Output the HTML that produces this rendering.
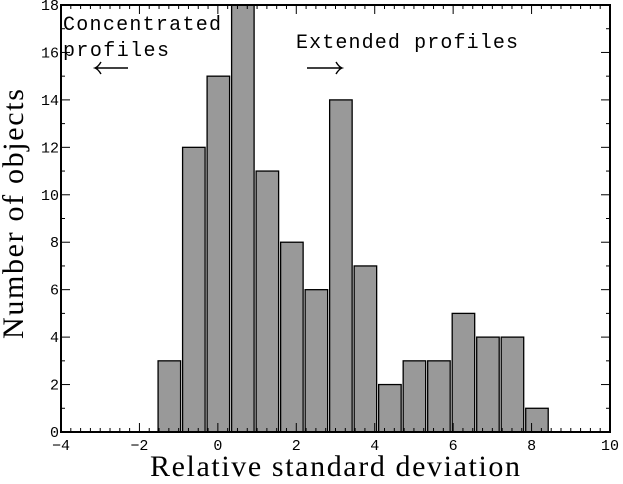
<!DOCTYPE html>
<html><head><meta charset="utf-8"><style>
body{margin:0;background:#fff}
svg text{font-family:"Liberation Mono",monospace}
</style></head><body>
<svg width="623" height="479">
<g id="g"></g>
</svg>
<script>
const binStarts=[-1.55,-0.925,-0.3,0.325,0.95,1.575,2.2,2.825,3.45,4.075,4.7,5.325,5.95,6.575,7.2,7.825];
const counts=[3,12,15,18,11,8,6,14,7,2,3,3,5,4,4,1];
const binWidth=0.625;
const xTicks=[-4,-2,0,2,4,6,8,10];
const yTicks=[0,2,4,6,8,10,12,14,16,18];
const L=61,R=610,T=5,B=432;
const X=v=>L+(v+4)/14*(R-L);
const Y=v=>B-v/18*(B-T);
const g=document.getElementById('g');
const NS='http://www.w3.org/2000/svg';
function mk(t,a,txt){const e=document.createElementNS(NS,t);for(const k in a)e.setAttribute(k,a[k]);if(txt!=null)e.textContent=txt;g.appendChild(e);return e;}
binStarts.forEach((s,i)=>{
 const x0=X(s)+1,x1=X(s+binWidth)-1;
 const r=mk('rect',{x:x0,y:Y(counts[i]),width:x1-x0,height:B-Y(counts[i]),fill:'#999',stroke:'#000','stroke-width':1.3});
 
 
});
for(let v=-4;v<=10.001;v+=0.25){const x=X(v);const big=Math.abs(v-Math.round(v/2)*2)<1e-6;const len=big?9:4;
 mk('line',{x1:x,x2:x,y1:B,y2:B-len,stroke:'#000','stroke-width':1});
 mk('line',{x1:x,x2:x,y1:T,y2:T+len,stroke:'#000','stroke-width':1});}
for(let v=0;v<=18;v+=1){const y=Y(v);const len=v%2==0?9:4;
 mk('line',{x1:L,x2:L+len,y1:y,y2:y,stroke:'#000','stroke-width':1});
 mk('line',{x1:R,x2:R-len,y1:y,y2:y,stroke:'#000','stroke-width':1});}
xTicks.forEach(v=>{const t=mk('text',{x:X(v),y:B+18,'text-anchor':'middle','font-size':15},v<0?'\u2212'+(-v):v);
 });
yTicks.forEach(v=>{const t=mk('text',{x:L-2,y:Y(v)+5,'text-anchor':'end','font-size':15},v);
 });
const fr=mk('rect',{x:L,y:T,width:R-L,height:B-T,fill:'none',stroke:'#000','stroke-width':2});

let t;
t=mk('text',{x:63,y:30,'font-size':20,'textLength':158},'Concentrated');
t=mk('text',{x:63,y:56,'font-size':20,'textLength':106},'profiles');
t=mk('text',{x:296,y:48,'font-size':20,'textLength':222},'Extended profiles');
t=mk('path',{d:'M128 68 H95 M101 62 Q98 67 95 68 Q98 69 101 74',fill:'none',stroke:'#000','stroke-width':1.4});
t=mk('path',{d:'M307 68 H342 M336 62 Q339 67 342 68 Q339 69 336 74',fill:'none',stroke:'#000','stroke-width':1.4});
t=mk('text',{x:335,y:476,'font-size':30,'text-anchor':'middle','textLength':370,'style':'font-family:"Liberation Serif",serif'},'Relative standard deviation');
t=mk('text',{x:0,y:0,'font-size':30,'text-anchor':'middle','textLength':250,'transform':'translate(23,214) rotate(-90)','style':'font-family:"Liberation Serif",serif'},'Number of objects');
</script>
</body></html>
